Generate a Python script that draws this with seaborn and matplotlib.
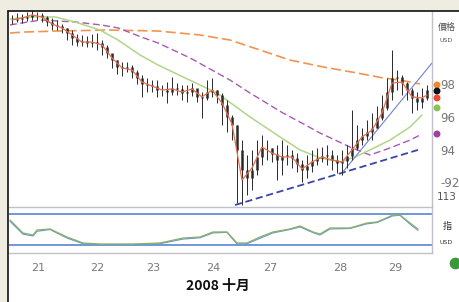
import matplotlib
matplotlib.use("Agg")
import matplotlib.pyplot as plt
import seaborn as sns
import pandas as pd
from matplotlib.patches import Rectangle
from matplotlib.lines import Line2D

# ---------------- data ----------------
high = [102.21, 102.33, 102.27, 102.39, 102.51, 102.39, 102.33, 102.15, 102.02, 101.90,
        101.66, 101.42, 101.29, 101.05, 100.99, 100.93, 101.05, 101.11, 100.68, 100.38,
        99.77, 99.46, 99.34, 99.34, 99.16, 98.85, 98.55, 98.37, 98.24, 98.24,
        97.94, 98.12, 98.43, 98.06, 97.94, 97.94, 98.06, 97.63, 97.51, 98.24,
        98.37, 97.63, 97.45, 97.02, 96.11, 95.50, 94.58, 93.67, 93.98, 94.58,
        94.89, 94.58, 94.10, 94.28, 94.58, 94.28, 93.98, 93.79, 93.37, 93.67,
        93.98, 94.10, 94.16, 94.28, 93.98, 93.67, 93.98, 94.28, 96.41, 95.50,
        95.32, 95.80, 96.23, 96.66, 97.33, 98.37, 100.07, 98.85, 98.55, 98.12,
        97.76, 97.51, 97.76, 97.94]
low = [101.66, 101.78, 101.72, 101.84, 101.90, 101.90, 101.78, 101.54, 101.29, 101.29,
       101.11, 100.68, 100.38, 100.32, 100.32, 100.26, 100.26, 100.07, 99.77, 99.59,
       98.98, 98.61, 98.49, 98.73, 98.37, 98.00, 97.21, 97.51, 97.51, 97.21,
       97.27, 96.84, 97.33, 97.33, 97.02, 96.90, 97.27, 96.90, 95.93, 97.02,
       97.21, 96.84, 95.50, 95.07, 94.58, 90.74, 90.62, 91.23, 91.53, 92.45,
       93.06, 93.37, 93.24, 92.14, 92.45, 93.06, 92.88, 92.63, 92.02, 92.27,
       92.63, 93.06, 93.24, 93.06, 92.76, 92.57, 92.45, 92.88, 93.37, 93.98,
       94.28, 94.58, 94.58, 95.32, 95.80, 96.41, 97.02, 97.63, 97.33, 97.02,
       96.23, 96.41, 96.54, 97.02]
close = [101.90, 101.96, 102.02, 102.09, 102.21, 102.21, 102.09, 101.78, 101.60, 101.54,
         101.42, 101.11, 100.81, 100.56, 100.62, 100.50, 100.56, 100.50, 100.26, 99.89,
         99.46, 99.04, 98.98, 99.04, 98.73, 98.37, 98.00, 97.94, 97.88, 97.63,
         97.63, 97.51, 97.76, 97.70, 97.45, 97.51, 97.76, 97.21, 97.15, 97.51,
         97.63, 97.33, 96.72, 95.99, 95.50, 93.98, 92.76, 92.27, 92.76, 93.55,
         94.10, 94.10, 93.73, 93.37, 93.61, 93.67, 93.49, 93.12, 92.76, 93.00,
         93.30, 93.49, 93.61, 93.67, 93.37, 93.18, 93.30, 93.61, 94.10, 94.58,
         94.83, 95.07, 95.32, 95.93, 96.54, 97.51, 98.37, 98.43, 98.06, 97.63,
         97.15, 96.90, 97.15, 97.63]

red_x = [0, 2, 4, 6, 8, 10, 12, 14, 16, 18, 20, 22, 24, 26, 28, 30, 32, 34, 36, 38,
         40, 42, 44, 46, 48, 50, 52, 54, 56, 58, 60, 62, 64, 66, 68, 70, 72, 74, 76, 78,
         80, 82, 83]
red_v = [101.90, 102.02, 102.21, 102.09, 101.66, 101.42, 100.99, 100.56, 100.56, 100.38,
         99.59, 98.98, 98.85, 98.12, 97.88, 97.63, 97.70, 97.51, 97.70, 97.21,
         97.63, 96.84, 95.56, 92.14, 92.88, 94.16, 93.79, 93.55, 93.55, 92.82,
         93.24, 93.55, 93.37, 93.24, 93.98, 94.77, 95.19, 96.23, 98.06, 98.12,
         97.21, 97.15, 97.33]

green_x = [-0.4, 3.6, 8.6, 12.6, 17.6, 21.2, 25.6, 29.2, 34.6, 41, 47.6, 53.6, 57.6,
           61.6, 65.6, 68.6, 71.6, 75.6, 79.6, 82]
green_v = [101.96, 102.09, 102.09, 101.78, 101.29, 100.68, 99.77, 99.16, 98.37, 97.45,
           95.99, 94.77, 93.98, 93.49, 93.24, 93.55, 93.98, 94.58, 95.38, 96.11]

purple_x = [-0.4, 3.2, 5.8, 12.6, 17.8, 21.2, 25.8, 29.2, 35.6, 43.6, 47.6, 54.2, 57.6,
            61.6, 67.6, 71.6, 75.6, 79.6, 82]
purple_v = [101.60, 101.78, 101.90, 101.78, 101.60, 101.42, 100.87, 100.50, 99.59, 98.24,
            97.45, 96.23, 95.68, 95.01, 94.16, 93.67, 94.10, 94.58, 94.95]

orange_x = [-0.4, 2.6, 9.2, 19.2, 29.2, 37.6, 43.6, 49.6, 55.6, 62.2, 69, 74.2, 77.6, 81.6]
orange_v = [101.11, 101.17, 101.23, 101.29, 101.23, 100.99, 100.68, 100.07, 99.46, 99.04,
            98.67, 98.37, 98.24, 98.00]

support_x = [44.6, 81.2]
support_v = [90.62, 93.98]
channel_x = [66, 84]
channel_v = [92.57, 99.28]

osc_x = [-0.4, 2.2, 4.2, 5, 7.6, 11, 14.2, 17.6, 24.2, 29.6, 34.2, 37.6, 40.2, 43, 45,
         47, 49.6, 52.2, 55.6, 57.6, 60.2, 61.6, 63.6, 67.6, 71, 73, 76.2, 77.6, 79.6, 81.2]
osc_green = [68.4, 43.2, 39.4, 49, 51, 35.5, 23.9, 21.9, 21.9, 23.9, 33.5, 35.5, 45.2,
             45.2, 23.9, 23.9, 35.5, 45.2, 51, 56.8, 45.2, 41.3, 52.9, 52.9, 62.6, 64.5,
             78, 78, 62.6, 51]
osc_blue = [66.0, 41.0, 37.5, 46.5, 50, 33.5, 22.5, 20.9, 20.9, 22.5, 31.5, 34.0, 43.5,
            44.5, 22.0, 22.5, 33.0, 43.5, 50, 55.0, 44.0, 39.5, 51.0, 52.0, 61.0, 63.5,
            76.5, 77.5, 60.5, 48.5]

tick_pos = [5.2, 17, 28.2, 40.2, 51.6, 65.6, 76.6]
tick_lab = ["21", "22", "23", "24", "27", "28", "29"]
price_ticks = [92, 94, 96, 98]
price_labels = ["-92", "94", "96", "98"]
last_vals = [97.94, 97.57, 97.15, 96.54, 94.95]
last_cols = ["#f08a30", "#111111", "#e84a30", "#8cc050", "#a040a0"]

# ---------------- figure ----------------
sns.set_style("white")
plt.rcParams["font.family"] = ["DejaVu Sans", "Noto Sans CJK TC"]

W, H = 460, 302
fig = plt.figure(figsize=(W / 100, H / 100), dpi=100)
fig.patch.set_facecolor("#efede2")
fig.patches.append(Rectangle((8 / W, 0), 1 - 8 / W, 291 / H, transform=fig.transFigure,
                             facecolor="white", edgecolor="none", zorder=-10))
fig.lines.append(Line2D([8 / W, 1], [291 / H, 291 / H], transform=fig.transFigure,
                        color="#111111", lw=1.2, zorder=10))
fig.lines.append(Line2D([8 / W, 8 / W], [0, 291 / H], transform=fig.transFigure,
                        color="#111111", lw=1.2, zorder=10))

ax = fig.add_axes([9 / W, 95 / H, 423 / W, 196 / H])
sub = fig.add_axes([9 / W, 49 / H, 423 / W, 46 / H])
for a in (ax, sub):
    a.set_facecolor("none")
    for s in ("top", "left"):
        a.spines[s].set_visible(False)
    for s in ("right", "bottom"):
        a.spines[s].set_color("#c0c0c8")
        a.spines[s].set_linewidth(1.0)

xs = list(range(len(close)))
opens = [close[0]] + close[:-1]

# moving averages
sns.lineplot(x=orange_x, y=orange_v, ax=ax, color="#f29450", lw=1.2,
             linestyle=(0, (6, 2.5)), zorder=2)
sns.lineplot(x=purple_x, y=purple_v, ax=ax, color="#a85ab0", lw=1.0,
             linestyle=(0, (5, 2.5)), zorder=2)
sns.lineplot(x=green_x, y=green_v, ax=ax, color="#b0d688", lw=1.1, zorder=2)
sns.lineplot(x=support_x, y=support_v, ax=ax, color="#3a46a8", lw=1.3,
             linestyle=(0, (4, 2)), zorder=2)
sns.lineplot(x=channel_x, y=channel_v, ax=ax, color="#7080d8", lw=0.8, zorder=2)

# candles
ax.vlines(xs, low, high, color="#2a2a2a", lw=0.7, zorder=3)
ax.vlines(xs, opens, close, color="#2a2a2a", lw=1.8, zorder=3)

sns.lineplot(x=red_x, y=red_v, ax=ax, color="#ec6e4e", lw=0.9, zorder=4)

ax.scatter([85] * len(last_vals), last_vals, c=last_cols, s=16, clip_on=False, zorder=5)

ax.set_xlim(-0.6, 84)
ax.set_ylim(90.5, 102.45)
ax.set_xticks([])
ax.yaxis.tick_right()
ax.set_yticks(price_ticks)
ax.set_yticklabels(price_labels)
ax.tick_params(axis="y", length=0, pad=6, labelsize=8.5, labelcolor="#777777")
ax.set_xlabel("")
ax.set_ylabel("")

# oscillator
sub.axhline(80, color="#4a7ad0", lw=1.1)
sub.axhline(20, color="#4a7ad0", lw=1.1)
sns.lineplot(x=osc_x, y=osc_blue, ax=sub, color="#6a9ad6", lw=0.9)
sns.lineplot(x=osc_x, y=osc_green, ax=sub, color="#8cb060", lw=0.9)
sub.scatter([88.6], [-14.8], s=55, color="#3a9a3a", clip_on=False)
sub.set_xlim(-0.6, 84)
sub.set_ylim(4.5, 93.5)
sub.set_yticks([])
sub.set_xticks(tick_pos)
sub.set_xticklabels(tick_lab)
sub.tick_params(axis="x", length=0, pad=7, labelsize=8, labelcolor="#777777")
sub.set_xlabel("")
sub.set_ylabel("")

# texts
fig.text(447 / W, 1 - 27 / H, "價格", fontsize=6.5, color="#555555", ha="center",
         va="center", family=["Noto Sans CJK TC", "DejaVu Sans"])
fig.text(446 / W, 1 - 40 / H, "USD", fontsize=4.5, color="#555555", ha="center", va="center")
fig.text(447 / W, 1 - 197 / H, "113", fontsize=7.5, color="#555555", ha="center", va="center")
fig.text(447 / W, 1 - 226 / H, "指", fontsize=6.5, color="#333333", ha="center",
         va="center", family=["Noto Sans CJK TC", "DejaVu Sans"])
fig.text(446 / W, 1 - 243 / H, "USD", fontsize=4.5, color="#333333", ha="center", va="center")
fig.text(218 / W, 1 - 286 / H, "2008 十月", fontsize=10, fontweight="bold", color="#111111",
         ha="center", va="center", family=["Noto Sans CJK TC", "DejaVu Sans"])

fig.savefig("out.png", dpi=100, facecolor=fig.get_facecolor())
